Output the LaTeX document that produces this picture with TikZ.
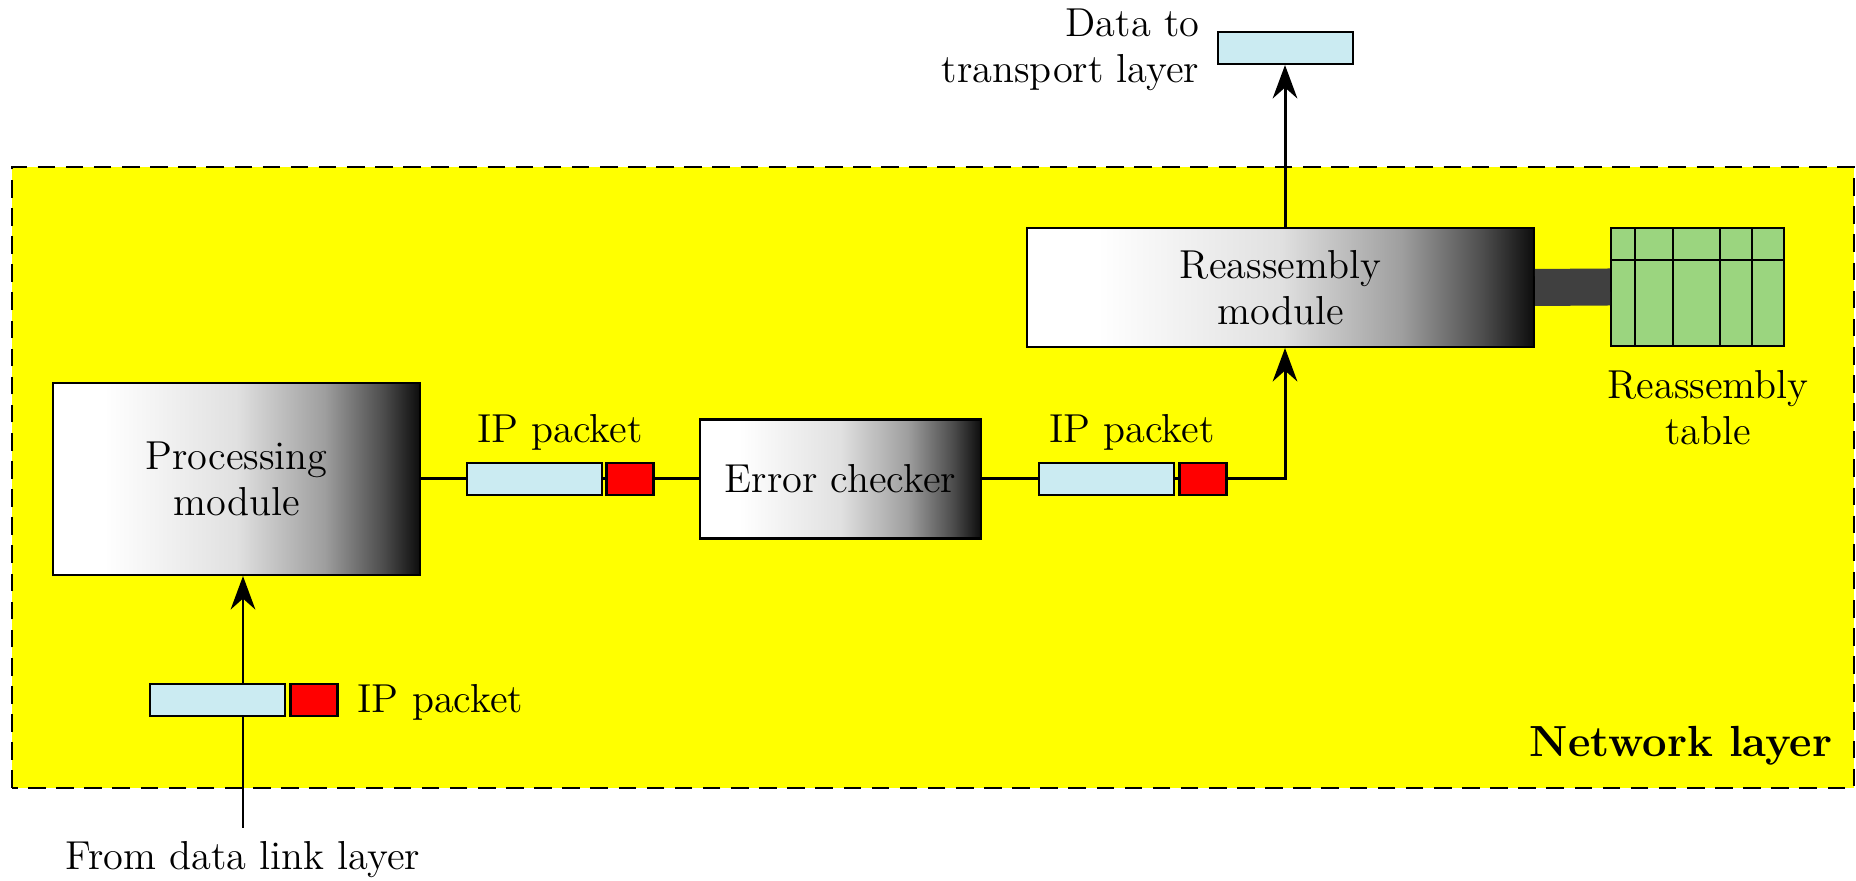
\documentclass[tikz,border=0pt]{standalone}
\usepackage{fontspec}
\usetikzlibrary{arrows.meta}
\definecolor{layeryellow}{RGB}{255,255,0}
\definecolor{pktblue}{RGB}{203,235,242}
\definecolor{tblgreen}{RGB}{155,213,127}
\definecolor{linkgray}{RGB}{64,64,64}
\pgfdeclarehorizontalshading{modshade}{100bp}{color(0bp)=(white); color(32bp)=(white); color(50bp)=(black!12); color(62bp)=(black!38); color(70bp)=(black!70); color(75bp)=(black!95); color(100bp)=(black!95)}

\begin{document}
\begin{tikzpicture}
[font=\fontsize{11.5}{13}\selectfont,
module/.style={draw,line width=0.6pt,shading=modshade,align=center,inner sep=0pt},
pkt/.style={draw,line width=0.6pt,fill=pktblue,minimum width=1.35cm,minimum height=0.32cm,inner sep=0pt},
hdr/.style={draw,line width=0.6pt,fill=red,minimum width=0.47cm,minimum height=0.32cm,inner sep=0pt},
lbl/.style={inner sep=0pt},
conn/.style={line width=0.85pt},
arr/.style={conn,-{Stealth[length=9.5pt,width=7pt]}}]
\useasboundingbox (0,0) rectangle (18.56,8.81);
\draw[fill=layeryellow,dash pattern=on 5pt off 3pt,line width=0.6pt] (0.12,0.93) rectangle (18.54,7.14);
\node[module,minimum width=3.67cm,minimum height=1.92cm] (proc) at (2.365,4.02) {Processing\\module};
\node[module,minimum width=2.81cm,minimum height=1.19cm] (err) at (8.405,4.02) {Error checker};
\node[module,minimum width=5.07cm,minimum height=1.19cm] (reasm) at (12.805,5.935) {Reassembly\\module};
\node[draw,line width=0.6pt,fill=tblgreen,minimum width=1.73cm,minimum height=1.18cm] (rtable) at (16.975,5.94) {};
\foreach \x in {16.35,16.73,17.20,17.52}
\draw[line width=0.6pt] (\x,5.35) -- (\x,6.53);
\draw[line width=0.6pt] (rtable.west |- 0,6.21) -- (rtable.east |- 0,6.21);
\draw[line width=0.37cm,linkgray] (reasm.east) -- (rtable.west);
% packets on the way
\node[pkt] (b1) at (5.345,4.02) {};
\node[hdr] (h1) at (6.30,4.02) {};
\node[pkt] (b2) at (11.065,4.02) {};
\node[hdr] (h2) at (12.03,4.02) {};
\node[pkt] (data) at (12.855,8.33) {};
\coordinate (turn) at (12.85,4.02);
\coordinate (src) at (2.43,0.53);
\draw[conn] (proc) -- (b1) -- (h1) -- (err);
\draw[arr] (err) -- (b2) -- (h2) -- (turn) -- (turn |- reasm.south);
\draw[arr] (turn |- reasm.north) -- (turn |- data.south);
\draw[arr] (src) -- (src |- proc.south);
\node[pkt] (b0) at (2.175,1.81) {};
\node[hdr] (h0) at (3.14,1.81) {};
% labels
\node[lbl,anchor=base] (l1) at (5.60,4.38) {IP packet};
\node[lbl,anchor=base] (l2) at (11.32,4.38) {IP packet};
\node[lbl,anchor=base west] (l0) at (3.57,1.68) {IP packet};
\node[lbl,anchor=base] (srclbl) at (2.43,0.11) {From data link layer};
\node[lbl,align=right,anchor=east] (datalbl) at (12.00,8.31) {Data to\\transport layer};
\node[lbl,align=center] (tbllbl) at (17.08,4.73) {Reassembly\\table};
\node[lbl,anchor=base east,font=\fontsize{12.4}{14}\selectfont\bfseries] (netlbl) at (18.33,1.24) {Network layer};
\end{tikzpicture}
\end{document}
